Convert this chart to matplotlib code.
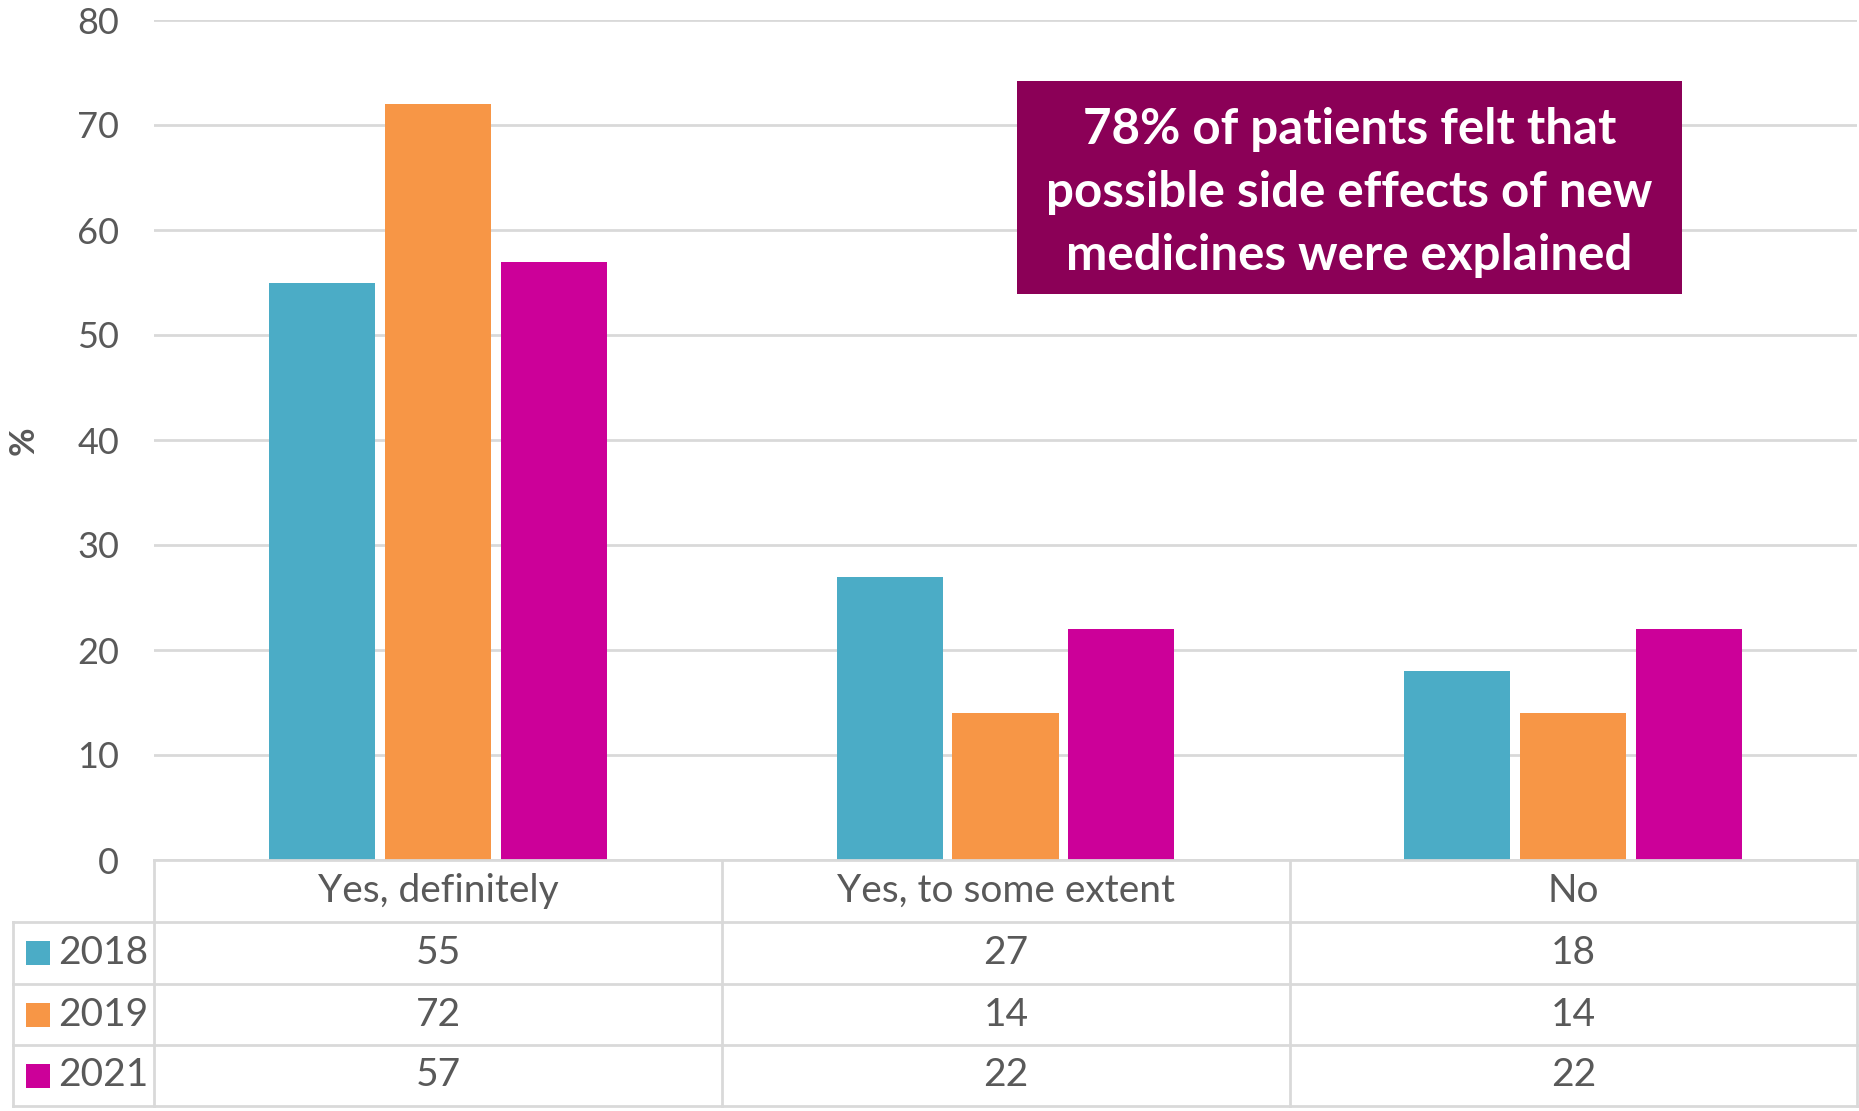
import matplotlib
matplotlib.use("Agg")
import matplotlib.pyplot as plt
import numpy as np
from matplotlib.patches import Rectangle
from matplotlib.lines import Line2D

# Survey responses (%), by year
categories = ["Yes, definitely", "Yes, to some extent", "No"]
years = ["2018", "2019", "2021"]
values_2018 = [55, 27, 18]
values_2019 = [72, 14, 14]
values_2021 = [57, 22, 22]
series = [values_2018, values_2019, values_2021]
colors = ["#4BACC6", "#F79646", "#CC0099"]
yticks = [0, 10, 20, 30, 40, 50, 60, 70, 80]
headline = "78% of patients felt that\npossible side effects of new\nmedicines were explained"

W, H = 1859, 1111
plt.rcParams["font.family"] = ["Lato", "DejaVu Sans"]
text_color = "#595959"
grid_color = "#D9D9D9"

fig = plt.figure(figsize=(W / 100, H / 100), dpi=100)


def fx(px):
    return px / W


def fy(py):
    return 1 - py / H


# plot area in pixel bounds
left, right, top, bottom = 154, 1857, 20, 860
ax = fig.add_axes([fx(left), fy(bottom), fx(right - left), fy(top) - fy(bottom)])

x = np.arange(len(categories))
width = 0.187
step = 0.204
for i, (vals, c) in enumerate(zip(series, colors)):
    ax.bar(x + (i - 1) * step, vals, width=width, color=c, zorder=3)

ax.set_xlim(-0.5, len(categories) - 0.5)
ax.set_ylim(0, 80)
ax.set_yticks(yticks)
ax.set_yticklabels([str(t) for t in yticks], fontsize=26, color=text_color)
ax.tick_params(axis="y", length=0, pad=25)
ax.set_xticks([])
ax.grid(axis="y", color=grid_color, linewidth=2, zorder=0)
for s in ax.spines.values():
    s.set_visible(False)

fig.text(fx(24), fy(441), "%", rotation=90, ha="center", va="center",
         fontsize=25, fontweight="bold", color=text_color)

# headline box
box_l, box_r, box_t, box_b = 1017, 1682, 81, 294
fig.patches.append(Rectangle((fx(box_l), fy(box_b)), fx(box_r - box_l), fy(box_t) - fy(box_b),
                             transform=fig.transFigure, facecolor="#8B0057",
                             edgecolor="none", zorder=4))
fig.text(fx((box_l + box_r) / 2), fy((box_t + box_b) / 2 + 5), headline,
         ha="center", va="center", fontsize=35.5, fontweight="bold",
         color="white", linespacing=1.48, zorder=5)

# data table under the chart
col_edges = [154, 722, 1290, 1857]
row_edges = [860, 922, 984, 1045, 1106]
leg_left = 13


def hline(x0, x1, y):
    fig.add_artist(Line2D([fx(x0), fx(x1)], [fy(y), fy(y)], color=grid_color,
                          linewidth=2, transform=fig.transFigure))


def vline(xp, y0, y1):
    fig.add_artist(Line2D([fx(xp), fx(xp)], [fy(y0), fy(y1)], color=grid_color,
                          linewidth=2, transform=fig.transFigure))


hline(col_edges[0], col_edges[-1], row_edges[0])
for yy in row_edges[1:]:
    hline(leg_left, col_edges[-1], yy)
for xx in col_edges:
    vline(xx, row_edges[0], row_edges[-1])
vline(leg_left, row_edges[1], row_edges[-1])

fs_table = 28
for j, cat in enumerate(categories):
    cx = (col_edges[j] + col_edges[j + 1]) / 2
    cy = (row_edges[0] + row_edges[1]) / 2
    fig.text(fx(cx), fy(cy), cat, ha="center", va="center", fontsize=fs_table,
             color=text_color)

for i, (yr, vals, c) in enumerate(zip(years, series, colors)):
    cy = (row_edges[i + 1] + row_edges[i + 2]) / 2
    fig.patches.append(Rectangle((fx(26), fy(cy + 12)), fx(24), fy(cy - 12) - fy(cy + 12),
                                 transform=fig.transFigure, facecolor=c,
                                 edgecolor="none"))
    fig.text(fx(148), fy(cy), yr, ha="right", va="center", fontsize=fs_table,
             color=text_color)
    for j, v in enumerate(vals):
        cx = (col_edges[j] + col_edges[j + 1]) / 2
        fig.text(fx(cx), fy(cy), str(v), ha="center", va="center", fontsize=fs_table,
                 color=text_color)

fig.savefig("out.png", dpi=100, facecolor="white")
